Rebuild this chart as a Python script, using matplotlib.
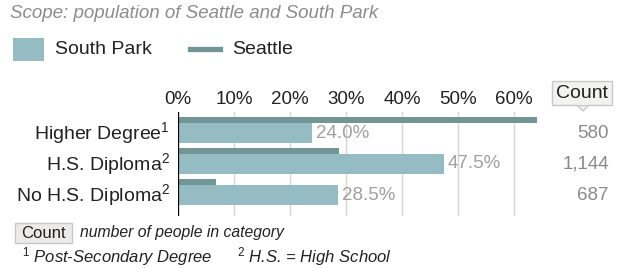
import numpy as np
import matplotlib
matplotlib.use('Agg')
import matplotlib.pyplot as plt
import matplotlib.transforms as mtransforms
from matplotlib.patches import Rectangle, Polygon
from matplotlib.lines import Line2D

plt.rcParams['font.family'] = ['Liberation Sans', 'DejaVu Sans']
plt.rcParams['mathtext.fontset'] = 'custom'
plt.rcParams['mathtext.rm'] = 'Liberation Sans'
plt.rcParams['mathtext.it'] = 'Liberation Sans:italic'

# data
categories = ['Higher Degree$^{1}$', 'H.S. Diploma$^{2}$', 'No H.S. Diploma$^{2}$']
south_park = [24.0, 47.5, 28.5]
seattle = [64.1, 28.7, 6.8]
counts = ['580', '1,144', '687']
ticks = [0, 10, 20, 30, 40, 50, 60]

SP_COLOR = '#95bcc2'
SEA_COLOR = '#729595'

W, H = 619, 268
fig = plt.figure(figsize=(W / 100, H / 100), dpi=100)


def fx(px):
    return px / W


def fy(py):
    return 1 - py / H


# axes placed in pixel terms: 0% at x=178, 5.6 px per percent
ax_left, ax_top, ax_bottom = 178, 112, 216
xmax = 65
ax = fig.add_axes([fx(ax_left), fy(ax_bottom), fx(xmax * 5.6), (ax_bottom - ax_top) / H])

row_px = 31.0
top_off = (133 - ax_top) / row_px
ax.set_ylim((ax_bottom - ax_top) / row_px - top_off, -top_off)
ax.set_xlim(0, xmax)

y = np.arange(len(categories))
sp_h = 20 / row_px
sea_h = 6 / row_px
sea_off = -13.5 / row_px

ax.barh(y, south_park, height=sp_h, color=SP_COLOR, zorder=2)
ax.barh(y + sea_off, seattle, height=sea_h, color=SEA_COLOR, zorder=3)

for s in ax.spines.values():
    s.set_visible(False)
ax.axvline(0, color='black', lw=1.6, zorder=4)
ax.xaxis.tick_top()
ax.set_xticks(ticks)
ax.set_xticklabels([f'{t}%' for t in ticks], fontsize=13.5, color='#222222')
ax.tick_params(axis='x', length=0, pad=3)
ax.set_yticks([])
ax.grid(axis='x', color='#d8d4d0', lw=1, zorder=0)
ax.set_axisbelow(True)

# percent labels for South Park
for yi, v in zip(y, south_park):
    ax.annotate(f'{v:.1f}%', (v, yi), xytext=(4, 0), textcoords='offset pixels',
                ha='left', va='center', fontsize=13.5, color='#a0a0a0', zorder=5)

# category labels and counts
trans = mtransforms.blended_transform_factory(fig.transFigure, ax.transData)
for yi, lab, c in zip(y, categories, counts):
    fig.text(fx(170), yi, lab, transform=trans, ha='right', va='center',
             fontsize=14, color='#222222')
    fig.text(fx(609), yi, c, transform=trans, ha='right', va='center',
             fontsize=13.5, color='#8a8a8a')

# "Count" header box with pointer
fig.add_artist(Polygon([[fx(576), fy(104)], [fx(590), fy(104)], [fx(583), fy(111)]],
                       closed=True, transform=fig.transFigure, fc='#f2f2f0', ec='#c8c8c8', lw=1))
fig.add_artist(Rectangle((fx(552), fy(105)), fx(60), (105 - 81) / H, transform=fig.transFigure,
                         fc='#f2f2f0', ec='#c8c8c8', lw=1))
fig.add_artist(Rectangle((fx(577), fy(104.6)), fx(12), 1.5 / H, transform=fig.transFigure,
                         fc='#f2f2f0', ec='none', lw=0))
fig.text(fx(582), fy(93), 'Count', ha='center', va='center', fontsize=14, color='#222222')

# title
fig.text(fx(10), fy(13), 'Scope: population of Seattle and South Park', ha='left', va='center',
         fontsize=13.5, style='italic', color='#8c8c8c')

# legend
fig.add_artist(Rectangle((fx(13), fy(61)), fx(31), 23 / H, transform=fig.transFigure,
                         fc=SP_COLOR, ec='none'))
fig.text(fx(55), fy(49.5), 'South Park', ha='left', va='center', fontsize=14, color='#222222')
fig.add_artist(Line2D([fx(190), fx(220)], [fy(49), fy(49)], transform=fig.transFigure,
                      color=SEA_COLOR, lw=3.8))
fig.text(fx(232), fy(49.5), 'Seattle', ha='left', va='center', fontsize=14, color='#222222')

# footer
fig.add_artist(Rectangle((fx(15), fy(243)), fx(57), 20 / H, transform=fig.transFigure,
                         fc='#ecebea', ec='#c8c8c8', lw=1))
fig.text(fx(43.5), fy(233), 'Count', ha='center', va='center', fontsize=12, color='#222222')
fig.text(fx(80), fy(233), 'number of people in category', ha='left', va='center',
         fontsize=11.3, style='italic', color='#222222')
fig.text(fx(22), fy(257), r'$^{1}$ Post-Secondary Degree', ha='left', va='center',
         fontsize=12, style='italic', color='#222222')
fig.text(fx(237), fy(257), r'$^{2}$ H.S. = High School', ha='left', va='center',
         fontsize=12, style='italic', color='#222222')

fig.savefig('out.png', dpi=100)
